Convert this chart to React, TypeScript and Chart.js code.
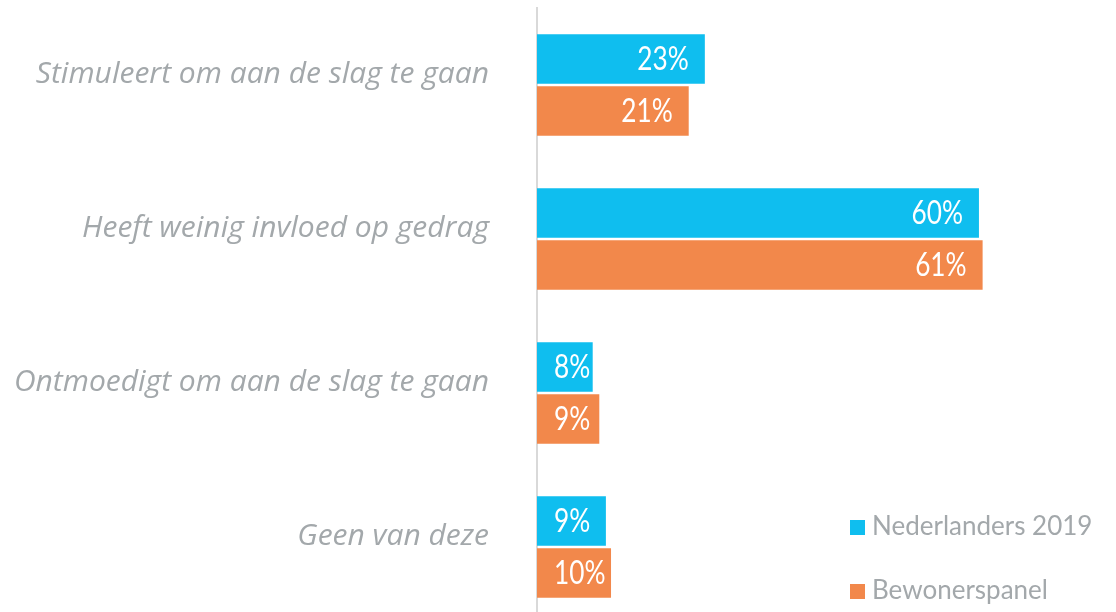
import React, { useEffect, useRef } from "react";
import { Chart, registerables } from "chart.js";

Chart.register(...registerables);

const categories = [
  "Stimuleert om aan de slag te gaan",
  "Heeft weinig invloed op gedrag",
  "Ontmoedigt om aan de slag te gaan",
  "Geen van deze",
];
const seriesNames = ["Nederlanders 2019", "Bewonerspanel"];
const nederlanders2019 = [22.9, 60.3, 7.6, 9.4];
const bewonerspanel = [20.7, 60.8, 8.5, 10.1];
const seriesColors = ["#0FBEEF", "#F2884B"];

const LABEL_FONT = "Lato, 'Open Sans', sans-serif";
const TICK_FONT = "'Open Sans', Lato, sans-serif";
const GREY = "#A3A8AB";

const valueLabels = {
  id: "valueLabels",
  afterDatasetsDraw(chart: any) {
    const ctx = chart.ctx;
    const sx = 0.82;
    ctx.save();
    ctx.font = `32px ${LABEL_FONT}`;
    ctx.fillStyle = "#FFFFFF";
    ctx.textAlign = "left";
    ctx.textBaseline = "middle";
    chart.data.datasets.forEach((ds: any, i: number) => {
      const meta = chart.getDatasetMeta(i);
      meta.data.forEach((bar: any, j: number) => {
        const txt = Math.round(ds.data[j]) + "%";
        const w = ctx.measureText(txt).width * sx;
        const left = Math.max(bar.x - 16 - w, bar.base + 17);
        ctx.save();
        ctx.translate(left, bar.y + 1);
        ctx.scale(sx, 1);
        ctx.fillText(txt, 0, 0);
        ctx.restore();
      });
    });
    ctx.restore();
  },
};

const customLegend = {
  id: "customLegend",
  afterDraw(chart: any) {
    const ctx = chart.ctx;
    ctx.save();
    ctx.font = `26px ${LABEL_FONT}`;
    ctx.textAlign = "left";
    ctx.textBaseline = "alphabetic";
    chart.data.datasets.forEach((ds: any, i: number) => {
      const top = 520 + i * 64;
      ctx.fillStyle = ds.backgroundColor;
      ctx.fillRect(850, top, 15, 15);
      ctx.fillStyle = GREY;
      ctx.fillText(ds.label, 872, top + 15);
    });
    ctx.restore();
  },
};

export default function App() {
  const ref = useRef<HTMLCanvasElement | null>(null);

  useEffect(() => {
    if (!ref.current) return;
    const chart = new Chart(ref.current, {
      type: "bar",
      data: {
        labels: categories,
        datasets: [
          {
            label: seriesNames[0],
            data: nederlanders2019,
            backgroundColor: seriesColors[0],
            categoryPercentage: 0.675,
            barPercentage: 0.95,
          },
          {
            label: seriesNames[1],
            data: bewonerspanel,
            backgroundColor: seriesColors[1],
            categoryPercentage: 0.675,
            barPercentage: 0.95,
          },
        ],
      },
      options: {
        indexAxis: "y",
        responsive: false,
        animation: false,
        layout: { padding: { top: 8, bottom: 8, left: 0, right: 0 } },
        plugins: {
          legend: { display: false },
          tooltip: { enabled: false },
        },
        scales: {
          x: { display: false, min: 0, max: 79 },
          y: {
            afterFit: (scale: any) => {
              scale.width = 537;
              scale.paddingTop = 0;
              scale.paddingBottom = 0;
            },
            grid: { display: false, drawTicks: false },
            border: { display: true, color: "#D9D9D9", width: 2 },
            ticks: {
              color: GREY,
              padding: 48,
              labelOffset: -11,
              font: { family: TICK_FONT, style: "italic", size: 30 },
            },
          },
        },
      },
      plugins: [valueLabels, customLegend],
    });
    return () => chart.destroy();
  }, []);

  return (
    <div
      style={{
        position: "fixed",
        top: 0,
        left: 0,
        width: 1116,
        height: 612,
        overflow: "hidden",
        background: "#FFFFFF",
      }}
    >
      <canvas ref={ref} width={1116} height={632} style={{ width: 1116, height: 632, display: "block" }} />
    </div>
  );
}
